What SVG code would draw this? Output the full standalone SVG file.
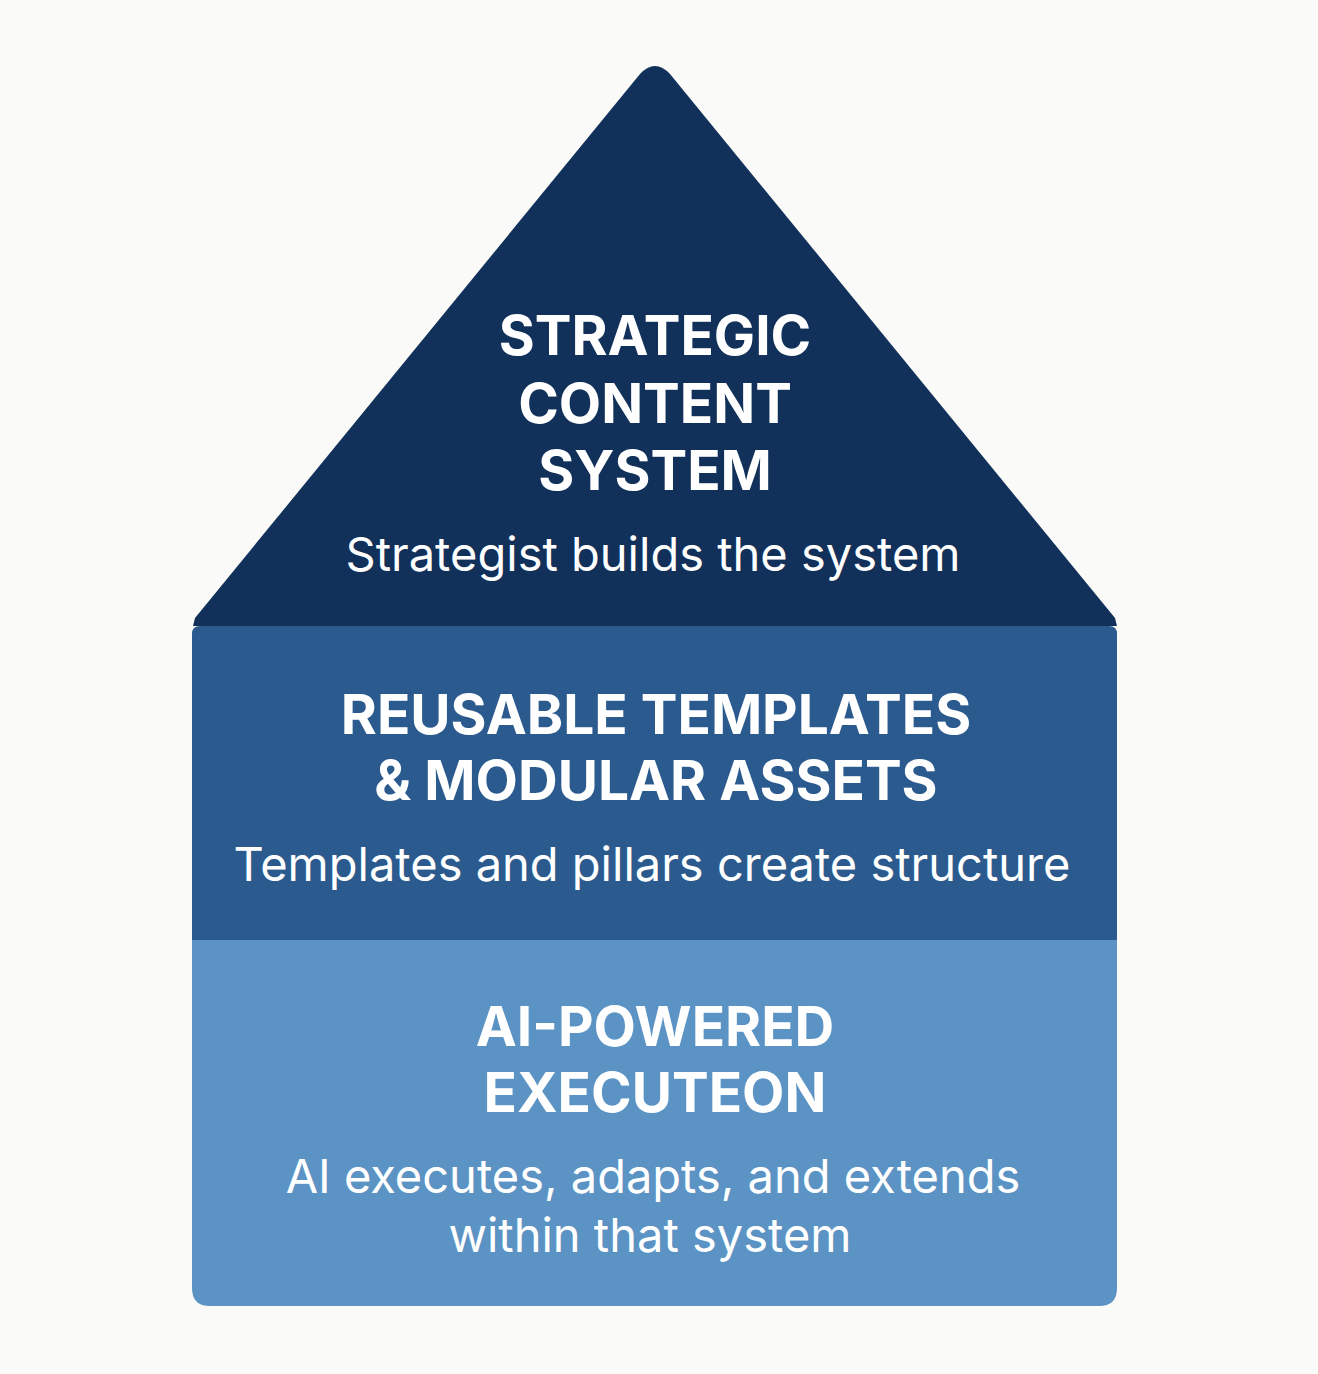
<svg xmlns="http://www.w3.org/2000/svg" width="1318" height="1374" viewBox="0 0 1318 1374">
<style>
.t{font-family:Inter,"Liberation Sans",sans-serif;font-weight:700;font-size:55px;fill:#fff;text-anchor:middle}
.s{font-family:Inter,"Liberation Sans",sans-serif;font-weight:400;font-size:47px;fill:#fff;text-anchor:middle}
</style>
<rect width="1318" height="1374" fill="#FAFAF8"/>
<g id="top">
<path d="M193 626 L195 618 L640 74 Q655 58 670 74 L1115 618 L1117 626 Z" fill="#11305A"/>
<text class="t" x="655" y="355">STRATEGIC</text>
<text class="t" x="655" y="423">CONTENT</text>
<text class="t" x="655" y="490">SYSTEM</text>
<text class="s" x="653" y="571">Strategist builds the system</text>
</g>
<g id="middle">
<path d="M192 634 Q192 626 200 626 L1109 626 Q1117 626 1117 634 L1117 940 L192 940 Z" fill="#2B5B8E"/>
<text class="t" x="656" y="734">REUSABLE TEMPLATES</text>
<text class="t" x="656" y="800">&amp; MODULAR ASSETS</text>
<text class="s" x="652" y="881">Templates and pillars create structure</text>
</g>
<g id="bottom">
<path d="M192 940 L1117 940 L1117 1288 Q1117 1306 1099 1306 L210 1306 Q192 1306 192 1288 Z" fill="#5B93C4"/>
<text class="t" x="655" y="1046">AI-POWERED</text>
<text class="t" x="655" y="1112">EXECUTEON</text>
<text class="s" x="653" y="1193">AI executes, adapts, and extends</text>
<text class="s" x="650" y="1252">within that system</text>
</g>
<g id="connectors"/>
</svg>
